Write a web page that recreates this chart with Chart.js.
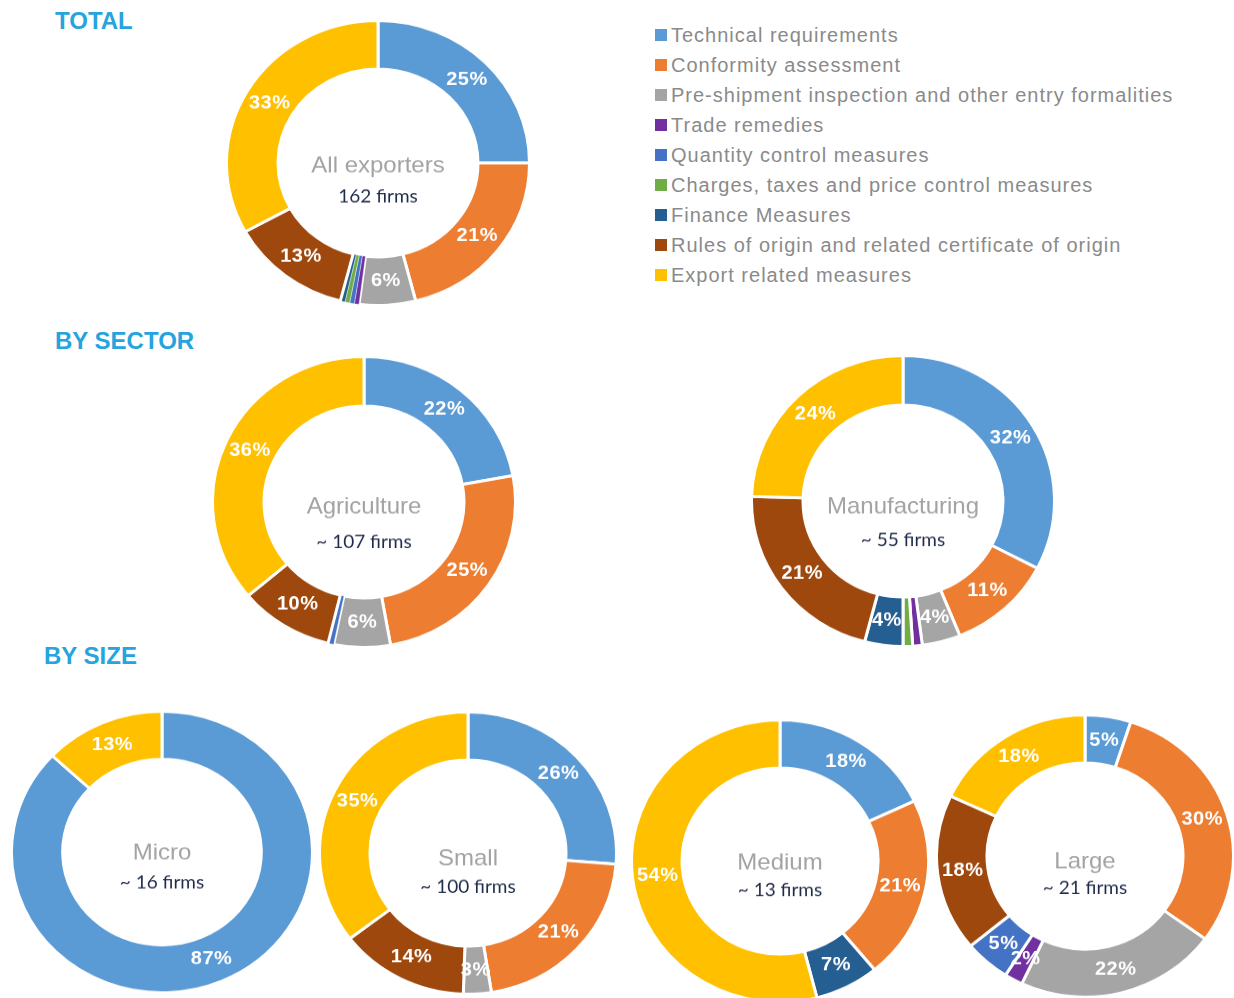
<!DOCTYPE html>
<html>
<head>
<meta charset="utf-8">
<title>Non-tariff measures by sector and size</title>
<script src="https://cdn.jsdelivr.net/npm/chart.js@4.4.0/dist/chart.umd.min.js"></script>
<style>
  body { margin: 0; background: #fff; }
  #page { position: relative; width: 1234px; height: 998px; overflow: hidden; font-family: "Liberation Sans", Arial, sans-serif; }
  .sec { position: absolute; color: #25a4dd; font-weight: bold; font-size: 24px; line-height: 1; }
  .wrap { position: absolute; }
  #legend { position: absolute; left: 655px; top: 20px; }
  .row { height: 30px; font-size: 20px; letter-spacing: 1px; color: #8a8a8a; display: flex; align-items: center; white-space: nowrap; }
  .sw { width: 12px; height: 12px; margin-right: 4px; flex: none; }
</style>
</head>
<body>
<div id="page">
  <div class="sec" style="left:55px;top:9px">TOTAL</div>
  <div class="sec" style="left:55px;top:329px">BY SECTOR</div>
  <div class="sec" style="left:44px;top:644px">BY SIZE</div>
  <div id="legend"></div>
</div>
<script>
const categories = [
  'Technical requirements',
  'Conformity assessment',
  'Pre-shipment inspection and other entry formalities',
  'Trade remedies',
  'Quantity control measures',
  'Charges, taxes and price control measures',
  'Finance Measures',
  'Rules of origin and related certificate of origin',
  'Export related measures'
];
const colors = ['#5b9bd5', '#ed7d31', '#a5a5a5', '#7030a0', '#4472c4', '#70ad47', '#255e91', '#9e480e', '#ffc000'];

// shares in %, same order as categories
const totalValues = [25, 21, 6, 0.5, 0.5, 0.5, 0.5, 13, 33];
const agricultureValues = [22, 25, 6, 0, 0.6, 0, 0, 10, 36];
const manufacturingValues = [32, 11, 4, 1, 0, 1, 4, 21, 24];
const microValues = [87, 0, 0, 0, 0, 0, 0, 0, 13];
const smallValues = [26, 21, 3, 0, 0, 0, 0, 14, 35];
const mediumValues = [18, 21, 0, 0, 0, 0, 7, 0, 54];
const largeValues = [5, 30, 22, 2, 5, 0, 0, 18, 18];

const groupNames = ['All exporters', 'Agriculture', 'Manufacturing', 'Micro', 'Small', 'Medium', 'Large'];
const firmLabels = ['162 firms', '~ 107 firms', '~ 55 firms', '~ 16 firms', '~ 100 firms', '~ 13 firms', '~ 21 firms'];
const groupValues = [totalValues, agricultureValues, manufacturingValues, microValues, smallValues, mediumValues, largeValues];

// placement of each donut: centre, radius, vertical squash, offsets of the centre texts
const layout = [
  { cx: 378, cy: 163, r: 151, sy: 0.94, t1: 3, t2: 36 },
  { cx: 364, cy: 502, r: 151, sy: 0.96, t1: 5, t2: 42 },
  { cx: 903, cy: 501, r: 151, sy: 0.96, t1: 6, t2: 41 },
  { cx: 162, cy: 852, r: 150, sy: 0.935, t1: 1, t2: 33 },
  { cx: 468, cy: 853, r: 148, sy: 0.95, t1: 6, t2: 36 },
  { cx: 780, cy: 861, r: 148, sy: 0.95, t1: 2, t2: 31 },
  { cx: 1085, cy: 856, r: 148, sy: 0.95, t1: 6, t2: 34 }
];

// legend
const legend = document.getElementById('legend');
categories.forEach((c, i) => {
  const row = document.createElement('div');
  row.className = 'row';
  row.innerHTML = '<span class="sw" style="background:' + colors[i] + '"></span>' + c;
  legend.appendChild(row);
});

const sliceLabels = {
  id: 'sliceLabels',
  afterDatasetsDraw(chart) {
    const ctx = chart.ctx;
    const values = chart.data.datasets[0].data;
    ctx.save();
    ctx.fillStyle = '#ffffff';
    ctx.font = 'bold 20px "Liberation Sans", Arial, sans-serif';
    ctx.letterSpacing = '0.5px';
    ctx.textAlign = 'center';
    ctx.textBaseline = 'middle';
    chart.getDatasetMeta(0).data.forEach((arc, i) => {
      if (values[i] < 2) return;
      const p = arc.tooltipPosition();
      ctx.fillText(Math.round(values[i]) + '%', p.x, p.y);
    });
    ctx.restore();
  }
};

const centerText = {
  id: 'centerText',
  afterDraw(chart, args, opts) {
    const a = chart.chartArea;
    const x = (a.left + a.right) / 2;
    const y = (a.top + a.bottom) / 2;
    const ctx = chart.ctx;
    ctx.save();
    ctx.textAlign = 'center';
    ctx.textBaseline = 'middle';
    ctx.fillStyle = '#a3a3a3';
    ctx.font = '24px "Liberation Sans", Arial, sans-serif';
    ctx.fillText(opts.title, x, y + opts.dy1);
    ctx.fillStyle = '#1f2b4a';
    ctx.font = '19px Lato, "Open Sans", sans-serif';
    ctx.fillText(opts.firms, x, y + opts.dy2);
    ctx.restore();
  }
};

const page = document.getElementById('page');
groupValues.forEach((values, g) => {
  const L = layout[g];
  const size = 2 * L.r + 4;
  const wrap = document.createElement('div');
  wrap.className = 'wrap';
  wrap.style.left = (L.cx - size / 2) + 'px';
  wrap.style.top = (L.cy - size / 2) + 'px';
  wrap.style.width = size + 'px';
  wrap.style.height = size + 'px';
  wrap.style.transform = 'scaleY(' + L.sy + ')';
  const canvas = document.createElement('canvas');
  canvas.width = size;
  canvas.height = size;
  wrap.appendChild(canvas);
  page.appendChild(wrap);

  new Chart(canvas.getContext('2d'), {
    type: 'doughnut',
    data: {
      labels: categories,
      datasets: [{
        data: values,
        backgroundColor: colors,
        borderColor: '#ffffff',
        borderWidth: (c) => (c.raw < 1 ? 0.4 : 3)
      }]
    },
    options: {
      responsive: false,
      animation: false,
      cutout: '66%',
      layout: { padding: 0 },
      plugins: {
        legend: { display: false },
        tooltip: { enabled: false },
        centerText: { title: groupNames[g], firms: firmLabels[g], dy1: L.t1, dy2: L.t2 }
      }
    },
    plugins: [sliceLabels, centerText]
  });
});
</script>
</body>
</html>
